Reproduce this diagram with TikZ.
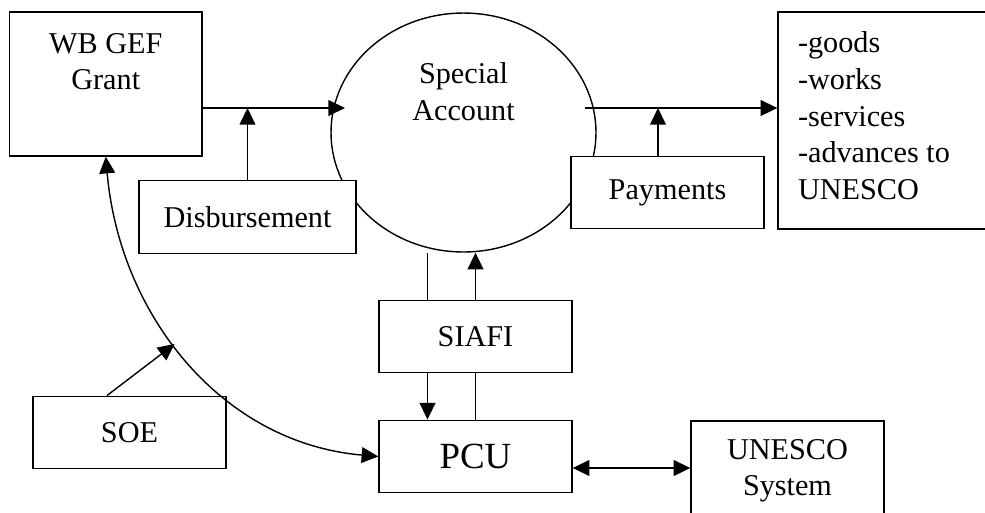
\documentclass[tikz,border=0pt]{standalone}
\usepackage{fontspec}
\setmainfont{Liberation Serif}
\usetikzlibrary{shapes.geometric}
\usetikzlibrary{arrows.meta}
\usetikzlibrary{calc}

\begin{document}
\begin{tikzpicture}[x=0.02cm, y=-0.02cm, line width=0.8pt,
  font=\fontsize{17.2}{20.8}\selectfont,
  box/.style={draw, fill=white, rectangle, minimum width=3.86cm, minimum height=1.45cm},
  toplabel/.style={anchor=north, inner sep=0pt, align=center},
  arr/.style={-{Triangle[length=9.5pt,width=9pt]}},
  darr/.style={{Triangle[length=9.5pt,width=9pt]}-{Triangle[length=9.5pt,width=9pt]}}]
  \useasboundingbox (0,0) rectangle (985,512);
  \clip (0,0) rectangle (985,512);
  \node[ellipse, draw, inner sep=0pt, minimum width=5.3cm, minimum height=4.78cm,
    label={[toplabel, yshift=-1cm]north:Special\\Account}] (sa) at (463.5,132.5) {};
  \node[box, minimum width=3.85cm, minimum height=2.88cm,
    label={[toplabel, yshift=-0.42cm]north:WB GEF\\Grant}] (wb) at (105.75,84) {};
  \node[box, minimum width=4.34cm] (disb) at (247.5,217) {Disbursement};
  \node[box] (pay) at (667.5,192.5) {Payments};
  \node[box, minimum width=4.4cm, minimum height=4.34cm,
    label={[toplabel, anchor=north west, align=left, xshift=0.4cm, yshift=-0.4cm]north west:-goods\\-works\\-services\\-advances to\\UNESCO}] (goods) at (888,120.5) {};
  \node[box] (siafi) at (475.5,336.5) {SIAFI};
  \node[box, font=\fontsize{21}{24}\selectfont] (pcu) at (475.5,456.5) {PCU};
  \node[box] (soe) at (129.5,432.5) {SOE};
  \node[box, minimum height=2.4cm,
    label={[toplabel, yshift=-0.36cm]north:UNESCO\\System}] (unesco) at (787.5,481) {};
  % free ends and offsets
  \coordinate (in) at (345,108);
  \coordinate (out) at (585,108);
  \coordinate (payup) at ($(pay.north)+(-9.5,0)$);
  \coordinate (sl) at ($(siafi.north)+(-48,0)$);
  \coordinate (pu) at ($(pcu.east)+(0,11.5)$);
  \coordinate (soeup) at ($(soe.north)+(-22.5,0)$);
  \draw[arr] (wb.east |- in) -- (in);
  \draw[arr] (disb.north) -- (disb.north |- in);
  \draw[arr] (out) -- (goods.west |- out);
  \draw[arr] (payup) -- (payup |- out);
  \draw (sl) -- (sl |- sa.south);
  \draw[arr] (siafi.north) -- (siafi.north |- sa.south);
  \draw[arr] (sl |- siafi.south) -- (sl |- pcu.north);
  \draw (pcu.north) -- (siafi.south);
  \draw[darr] (pu) -- (unesco.west |- pu);
  \draw[darr] (wb.south) to[out=-85, in=175] coordinate[pos=0.45] (hit) (pcu.west);
  \draw[arr] (soeup) -- (hit);
\end{tikzpicture}
\end{document}
